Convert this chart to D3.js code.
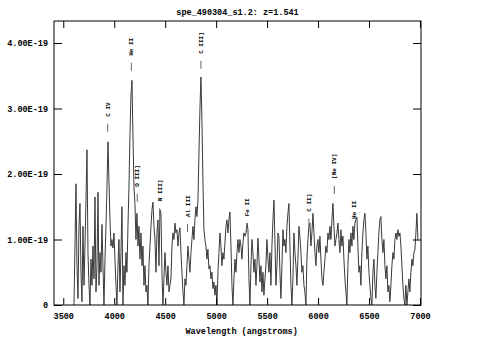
<!DOCTYPE html>
<html>
<head>
<meta charset="utf-8">
<script src="https://cdn.jsdelivr.net/npm/d3@7"></script>
<style>
  body { margin: 0; background: #fff; }
  text { font-family: 'Liberation Mono', 'DejaVu Sans Mono', monospace; font-weight: bold; }
</style>
</head>
<body>
<svg width="483" height="358"></svg>
<script>
const title = 'spe_490304_s1.2: z=1.541'
const redshift = 1.541

// flux in units of 1e-19, sampled on a regular wavelength grid
const waveStart = 3605
const waveStep = 9.81
const flux = [
  0, 0.9, 1.85, 0.6, 0.1, 1.2, 1.55, 0.5, 0.05, 1.2, 0.3, 0.9, 1.6, 2.37, 0.8, 0.3, 0.0, 0.7, 0.3, 0.9,
  0.4, 1.65, 0.2, 0.6, 1.72, 0.3, 0.8, 0.5, 1.23, 0.6, 0.0, 0.7, 1.2, 1.8, 2.49, 1.9, 1.3, 0.9, 1.0, 0.87,
  1.1, 0.7, 0.3, 0.0, 0.6, 1.0, 0.2, 0.8, 1.5, 0.0, 0.6, 0.3, 0.8, 0.5, 1.2, 1.8, 2.6, 3.2, 3.43, 2.6,
  1.8, 1.55, 1.0, 1.4, 0.9, 1.2, 0.7, 1.1, 0.6, 0.9, 0.3, 0.6, 0.2, 0.3, 0.0, 0.6, 0.9, 1.2, 1.45, 1.57,
  1.2, 1.0, 0.5, 1.1, 1.3, 0.6, 1.45, 1.4, 0.5, 0.0, 0.4, 0.8, 0.5, 0.3, 0.6, 0.2, 0.3, 0.4, 0.9, 1.1,
  1.0, 1.25, 1.1, 1.15, 0.9, 1.1, 1.18, 0.8, 0.5, 0.2, 0.0, 0.4, 0.3, 0.6, 0.9, 0.7, 0.5, 0.8, 1.0, 1.2,
  1.0, 1.3, 1.5, 1.35, 1.6, 2.3, 3.0, 3.48, 2.8, 1.9, 1.15, 1.0, 0.9, 0.7, 0.85, 0.55, 0.6, 0.4, 0.5, 0.25,
  0.35, 0.15, 0.3, 0.0, 0.5, 0.8, 1.1, 0.9, 0.6, 0.8, 0.7, 0.95, 1.2, 1.3, 1.1, 1.3, 1.42, 0.9, 0.3, 0.0,
  0.4, 0.7, 0.5, 0.8, 1.0, 0.8, 1.0, 0.9, 0.7, 0.95, 1.1, 1.05, 1.1, 1.25, 1.15, 0.4, 0.0, 0.6, 1.0, 0.8,
  0.5, 0.7, 0.3, 0.6, 1.02, 0.7, 0.35, 0.6, 0.2, 0.5, 0.15, 0.4, 0.6, 1.0, 0.7, 0.5, 0.8, 0.3, 0.9, 1.3,
  1.6, 1.0, 0.3, 0.6, 1.1, 1.05, 0.5, 0.1, 0.6, 1.15, 0.9, 1.0, 0.8, 1.2, 1.4, 1.55, 0.9, 0.3, 0.0, 0.4,
  1.1, 0.8, 0.6, 0.3, 0.7, 1.2, 1.04, 0.8, 0.5, 0.6, 0.3, 0.2, 0.0, 0.7, 1.0, 1.2, 1.25, 0.9, 1.1, 1.4,
  1.1, 0.8, 0.6, 0.9, 1.0, 0.8, 1.05, 0.7, 0.4, 0.3, 0.5, 0.7, 0.9, 0.8, 1.1, 1.0, 1.2, 1.0, 1.3, 1.55,
  1.2, 0.9, 1.0, 1.1, 1.25, 1.0, 0.8, 1.15, 0.9, 1.05, 0.7, 0.4, 0.2, 0.0, 0.6, 1.0, 0.8, 1.1, 0.9, 1.2,
  1.0, 1.25, 1.3, 1.34, 0.9, 0.5, 0.6, 0.3, 0.8, 1.1, 1.3, 1.4, 1.1, 0.7, 0.9, 0.5, 0.3, 0.1, 0.0, 0.5,
  0.7, 0.3, 0.1, 0.5, 0.8, 1.1, 1.3, 1.35, 1.0, 0.8, 1.0, 0.6, 0.4, 0.6, 0.2, 0.3, 0.05, 0.3, 0.6, 0.8,
  0.7, 1.0, 1.1, 1.0, 1.15, 1.05, 1.1, 0.9, 0.6, 0.3, 0.1, 0.0, 0.3, 0.0, 0.2, 0.4, 0.2, 0.5, 0.7, 0.6,
  0.8, 0.84, 1.1, 1.4, 1.0
]

// emission line ids: rest wavelength and the flux level under each marker
const lineNames = ['C IV', 'He II', 'O III]', 'N III]', 'Al III', 'C III]', 'Fe II', 'C II]', '[Ne IV]', 'He II']
const lineRest = [1549, 1640.4, 1663, 1750, 1857, 1909, 2085, 2326, 2424, 2500]
const lineLevel = [2.63, 3.56, 1.56, 1.34, 1.10, 3.59, 1.11, 1.18, 1.68, 1.07]

const xTicks = [3500, 4000, 4500, 5000, 5500, 6000, 6500, 7000]
const yTicks = [0, 1, 2, 3, 4]
const yTickLabels = ['0', '1.00E-19', '2.00E-19', '3.00E-19', '4.00E-19']

const svg = d3.select('svg')
const margin = {top: 21, right: 62, bottom: 53, left: 54}
const width = +svg.attr('width') - margin.left - margin.right
const height = +svg.attr('height') - margin.top - margin.bottom
const g = svg.append('g').attr('transform', `translate(${margin.left},${margin.top})`)

const x = d3.scaleLinear().domain([3409, 7010]).range([0, width])
const y = d3.scaleLinear().domain([0, 4.336]).range([height, 0])

const data = flux.map((f, i) => ({w: waveStart + i * waveStep, f: f}))

const line = d3.line()
  .x((d) => x(d.w))
  .y((d) => y(d.f))

g.append('path')
  .datum(data)
  .attr('fill', 'none')
  .attr('stroke', '#3a3a3a')
  .attr('stroke-width', 1)
  .attr('d', line)

// axes, ticks pointing inward
const styleAxis = (sel) => {
  sel.select('.domain').remove()
  sel.selectAll('line').attr('stroke', '#000')
  sel.selectAll('text').attr('font-family', null).attr('font-size', 8.5).attr('fill', '#000')
}

g.append('g')
  .attr('transform', `translate(0,${height})`)
  .call(d3.axisBottom(x).tickValues(xTicks).tickSize(-7).tickPadding(8).tickFormat(d3.format('d')))
  .call(styleAxis)

g.append('g')
  .call(d3.axisTop(x).tickValues(xTicks).tickSize(-7).tickFormat(''))
  .call(styleAxis)

g.append('g')
  .call(d3.axisLeft(y).tickValues(yTicks).tickSize(-8).tickPadding(6)
    .tickFormat((d, i) => yTickLabels[i]))
  .call(styleAxis)

g.append('g')
  .attr('transform', `translate(${width},0)`)
  .call(d3.axisRight(y).tickValues(yTicks).tickSize(-8).tickFormat(''))
  .call(styleAxis)

g.append('rect')
  .attr('width', width)
  .attr('height', height)
  .attr('fill', 'none')
  .attr('stroke', '#000')

// line identifications
const ids = g.append('g')
lineNames.forEach((name, i) => {
  const lx = x(lineRest[i] * (1 + redshift))
  const ly = y(lineLevel[i])
  ids.append('line')
    .attr('x1', lx).attr('x2', lx)
    .attr('y1', ly - 1).attr('y2', ly - 9)
    .attr('stroke', '#666')
  ids.append('text')
    .attr('transform', `translate(${lx},${ly - 16}) rotate(-90)`)
    .attr('dy', '0.35em')
    .attr('font-size', 6)
    .text(name)
})

svg.append('text')
  .attr('x', margin.left + width / 2)
  .attr('y', 15)
  .attr('text-anchor', 'middle')
  .attr('font-size', 8.5)
  .text(title)

svg.append('text')
  .attr('x', margin.left + x(5250))
  .attr('y', 334)
  .attr('text-anchor', 'middle')
  .attr('font-size', 8.5)
  .text('Wavelength (angstroms)')
</script>
</body>
</html>
